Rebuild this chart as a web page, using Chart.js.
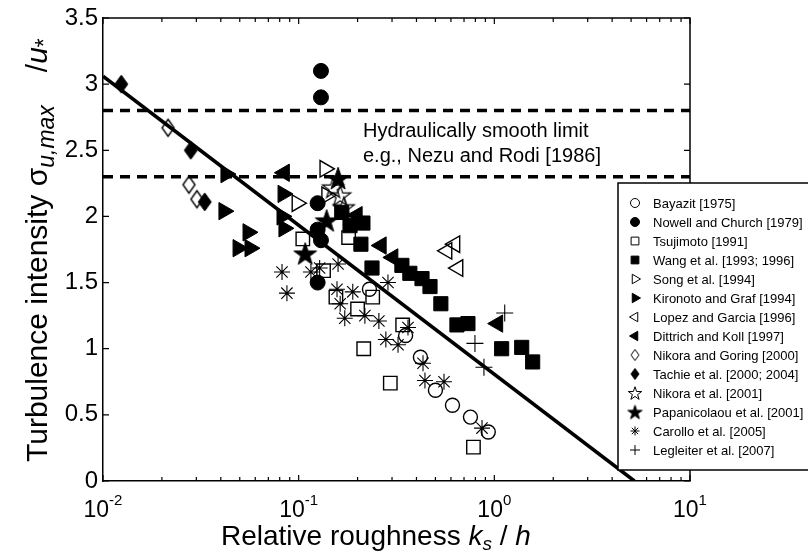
<!DOCTYPE html>
<html>
<head>
<meta charset="utf-8">
<script src="https://cdn.jsdelivr.net/npm/chart.js"></script>
<style>
  body { margin: 0; background: #fff; }
  canvas { display: block; }
</style>
</head>
<body>
<canvas id="chart" width="808" height="552"></canvas>
<script>
const FONT = "'Liberation Sans', Arial, Helvetica, sans-serif";

// axis ticks
const xDecades = [0.01, 0.1, 1, 10];
const xExponents = ["-2", "-1", "0", "1"];
const yTicks = [0, 0.5, 1, 1.5, 2, 2.5, 3, 3.5];
const yTickLabels = ["0", "0.5", "1", "1.5", "2", "2.5", "3", "3.5"];

// data, [k_s/h, sigma_u,max/u*]
const bayazit = [[0.23, 1.45], [0.352, 1.10], [0.419, 0.935], [0.50, 0.686], [0.611, 0.573], [0.755, 0.483], [0.931, 0.37]];
const nowell = [[0.13, 3.10], [0.13, 2.90], [0.125, 2.10], [0.125, 1.90], [0.13, 1.82], [0.125, 1.50]];
const tsujimoto = [[0.105, 1.83], [0.18, 1.84], [0.134, 1.59], [0.155, 1.39], [0.20, 1.30], [0.239, 1.39], [0.34, 1.18], [0.215, 1.00], [0.294, 0.74], [0.782, 0.256]];
const wang = [[0.166, 2.03], [0.183, 1.93], [0.213, 1.95], [0.208, 1.79], [0.237, 1.61], [0.337, 1.63], [0.370, 1.57], [0.427, 1.53], [0.469, 1.47], [0.533, 1.34], [0.644, 1.18], [0.733, 1.19], [1.09, 1.00], [1.38, 1.01], [1.57, 0.90]];
const song = [[0.136, 2.36], [0.098, 2.10], [0.139, 2.16]];
const kironoto = [[0.0425, 2.32], [0.0415, 2.04], [0.0551, 1.88], [0.049, 1.76], [0.0564, 1.76], [0.0832, 2.17], [0.0822, 2.00], [0.0841, 1.91]];
const lopez = [[0.573, 1.74], [0.629, 1.79], [0.652, 1.61]];
const dittrich = [[0.0845, 2.33], [0.199, 2.01], [0.264, 1.78], [0.303, 1.69], [1.04, 1.19]];
const nikoraGoring = [[0.0215, 2.67], [0.0275, 2.24], [0.0302, 2.13]];
const tachie = [[0.0124, 3.0], [0.0281, 2.5], [0.0331, 2.11]];
const nikora2001 = [[0.150, 2.22], [0.163, 2.16], [0.170, 2.07]];
const papanicolaou = [[0.159, 2.29], [0.108, 1.72], [0.139, 1.97]];
const carollo = [[0.0822, 1.58], [0.0871, 1.42], [0.1155, 1.58], [0.128, 1.61], [0.159, 1.64], [0.157, 1.45], [0.189, 1.43], [0.163, 1.34], [0.172, 1.23], [0.218, 1.25], [0.257, 1.21], [0.286, 1.50], [0.279, 1.07], [0.322, 1.03], [0.362, 1.16], [0.432, 0.89], [0.442, 0.76], [0.553, 0.75], [0.865, 0.40]];
const legleiter = [[1.13, 1.27], [0.796, 1.04], [0.885, 0.86]];

const fitLine = [[0.01, 3.06], [5.2, 0]];
const smoothUpper = [[0.01, 2.8], [10, 2.8]];
const smoothLower = [[0.01, 2.3], [10, 2.3]];

const seriesNames = [
  "Bayazit [1975]", "Nowell and Church [1979]", "Tsujimoto [1991]", "Wang et al. [1993; 1996]",
  "Song et al. [1994]", "Kironoto and Graf [1994]", "Lopez and Garcia [1996]", "Dittrich and Koll [1997]",
  "Nikora and Goring [2000]", "Tachie et al. [2000; 2004]", "Nikora et al. [2001]", "Papanicolaou et al. [2001]",
  "Carollo et al. [2005]", "Legleiter et al. [2007]"
];
const seriesData = [bayazit, nowell, tsujimoto, wang, song, kironoto, lopez, dittrich,
  nikoraGoring, tachie, nikora2001, papanicolaou, carollo, legleiter];

function makeStar(outer, filled, lw) {
  const size = Math.ceil(outer * 2 + lw * 2 + 2);
  const c = document.createElement("canvas");
  c.width = size; c.height = size;
  const g = c.getContext("2d");
  const cx = size / 2, cy = size / 2 + outer * 0.1;
  g.beginPath();
  for (let i = 0; i < 10; i++) {
    const r = i % 2 === 0 ? outer : outer * 0.39;
    const a = -Math.PI / 2 + i * Math.PI / 5;
    if (i === 0) g.moveTo(cx + r * Math.cos(a), cy + r * Math.sin(a));
    else g.lineTo(cx + r * Math.cos(a), cy + r * Math.sin(a));
  }
  g.closePath();
  g.lineWidth = lw; g.strokeStyle = "#000";
  if (filled) { g.fillStyle = "#000"; g.fill(); }
  g.stroke();
  return c;
}

function makeDiamond(w, h, filled, lw) {
  const c = document.createElement("canvas");
  c.width = Math.ceil(w + lw * 2 + 2); c.height = Math.ceil(h + lw * 2 + 2);
  const g = c.getContext("2d");
  const cx = c.width / 2, cy = c.height / 2;
  g.beginPath();
  g.moveTo(cx, cy - h / 2); g.lineTo(cx + w / 2, cy); g.lineTo(cx, cy + h / 2); g.lineTo(cx - w / 2, cy);
  g.closePath();
  g.lineWidth = lw; g.strokeStyle = "#000";
  if (filled) { g.fillStyle = "#000"; g.fill(); }
  g.stroke();
  return c;
}

// marker look on the plot and in the legend
const markers = [
  { style: "circle", r: 7, fill: false, lw: 1.4, lr: 4.5 },
  { style: "circle", r: 7.5, fill: true, lw: 1, lr: 4.5 },
  { style: "rect", r: 9.5, fill: false, lw: 1.4, lr: 5.5 },
  { style: "rect", r: 10, fill: true, lw: 1, lr: 5.5 },
  { style: "triangle", r: 9.5, rot: 90, fill: false, lw: 1.4, lr: 5.5 },
  { style: "triangle", r: 10, rot: 90, fill: true, lw: 1, lr: 5.5 },
  { style: "triangle", r: 9.5, rot: -90, fill: false, lw: 1.4, lr: 5.5 },
  { style: "triangle", r: 10, rot: -90, fill: true, lw: 1, lr: 5.5 },
  { style: makeDiamond(12, 17, false, 1.4), r: 8, legend: makeDiamond(8, 11, false, 1) },
  { style: makeDiamond(13, 18, true, 1), r: 8, legend: makeDiamond(8, 11, true, 1) },
  { style: makeStar(11, false, 1.2), r: 9, legend: makeStar(7, false, 1) },
  { style: makeStar(12, true, 1), r: 10, legend: makeStar(7.5, true, 1) },
  { style: "star", r: 8, fill: false, lw: 1.1, lr: 4.5 },
  { style: "cross", r: 8.5, fill: false, lw: 1.1, lr: 5 }
];

const toPts = arr => arr.map(p => ({ x: p[0], y: p[1] }));

const datasets = seriesNames.map((name, i) => {
  const m = markers[i];
  return {
    label: name,
    data: toPts(seriesData[i]),
    showLine: false,
    pointStyle: m.style,
    pointRadius: m.r,
    pointRotation: m.rot || 0,
    pointBackgroundColor: m.fill ? "#000" : "rgba(0,0,0,0)",
    pointBorderColor: "#000",
    pointBorderWidth: m.lw || 1,
    order: 1
  };
});

const lineSet = (pts, dash) => ({
  data: toPts(pts),
  showLine: true,
  borderColor: "#000",
  borderWidth: 3.5,
  borderDash: dash,
  pointRadius: 0,
  fill: false,
  order: 0
});
datasets.push(lineSet(fitLine, []));
datasets.push(lineSet(smoothUpper, [10, 7]));
datasets.push(lineSet(smoothLower, [10, 7]));

function drawMarker(ctx, m, x, y) {
  ctx.save();
  ctx.strokeStyle = "#000";
  ctx.fillStyle = m.fill ? "#000" : "rgba(0,0,0,0)";
  ctx.lineWidth = 1;
  const style = m.legend || m.style;
  if (typeof style !== "string") {
    ctx.drawImage(style, x - style.width / 2, y - style.height / 2);
  } else if (Chart.helpers && Chart.helpers.drawPoint) {
    Chart.helpers.drawPoint(ctx, { pointStyle: style, rotation: m.rot || 0, radius: m.lr, borderWidth: 1 }, x, y);
  }
  ctx.restore();
}

const decorations = {
  id: "decorations",
  afterDatasetsDraw(chart) {
    const ctx = chart.ctx;
    const a = chart.chartArea;
    const xs = chart.scales.x, ys = chart.scales.y;
    ctx.save();
    ctx.strokeStyle = "#000";
    ctx.fillStyle = "#000";
    ctx.lineWidth = 1.5;

    // top and right sides of the box
    ctx.beginPath();
    ctx.moveTo(a.left, a.top); ctx.lineTo(a.right, a.top); ctx.lineTo(a.right, a.bottom);
    ctx.stroke();

    // inward ticks
    ctx.lineWidth = 1.2;
    ctx.beginPath();
    yTicks.forEach(v => {
      const py = ys.getPixelForValue(v);
      ctx.moveTo(a.left, py); ctx.lineTo(a.left + 6, py);
      ctx.moveTo(a.right, py); ctx.lineTo(a.right - 6, py);
    });
    xDecades.forEach((d, i) => {
      const steps = i < xDecades.length - 1 ? [1, 2, 3, 4, 5, 6, 7, 8, 9] : [1];
      steps.forEach(k => {
        const px = xs.getPixelForValue(d * k);
        const len = k === 1 ? 6 : 4;
        ctx.moveTo(px, a.bottom); ctx.lineTo(px, a.bottom - len);
        ctx.moveTo(px, a.top); ctx.lineTo(px, a.top + len);
      });
    });
    ctx.stroke();

    // y tick labels
    ctx.font = "24px " + FONT;
    ctx.textAlign = "right";
    ctx.textBaseline = "middle";
    yTicks.forEach((v, i) => ctx.fillText(yTickLabels[i], a.left - 5, ys.getPixelForValue(v)));

    // x tick labels 10^n
    ctx.textBaseline = "alphabetic";
    ctx.textAlign = "left";
    xDecades.forEach((d, i) => {
      ctx.font = "23px " + FONT;
      const wBase = ctx.measureText("10").width;
      ctx.font = "15px " + FONT;
      const wExp = ctx.measureText(xExponents[i]).width;
      const left = xs.getPixelForValue(d) - (wBase + wExp) / 2;
      ctx.font = "23px " + FONT;
      ctx.fillText("10", left, 517);
      ctx.font = "15px " + FONT;
      ctx.fillText(xExponents[i], left + wBase, 505);
    });

    // x axis title
    let cx = 221;
    const piece = (t, f, dy) => { ctx.font = f; ctx.fillText(t, cx, 545 + dy); cx += ctx.measureText(t).width; };
    piece("Relative roughness ", "28px " + FONT, 0);
    piece("k", "italic 28px " + FONT, 0);
    piece("s", "italic 19px " + FONT, 5);
    piece(" / ", "28px " + FONT, 0);
    piece("h", "italic 28px " + FONT, 0);

    // y axis title
    ctx.save();
    ctx.translate(47, 462);
    ctx.rotate(-Math.PI / 2);
    cx = 0;
    const piece2 = (t, f, dy) => { ctx.font = f; ctx.fillText(t, cx, dy); cx += ctx.measureText(t).width; };
    piece2("Turbulence intensity \u03c3", "30px " + FONT, 0);
    piece2("u,max", "italic 23px " + FONT, 7);
    cx += 33;
    piece2("/", "30px " + FONT, 0);
    piece2("u", "italic 30px " + FONT, 0);
    piece2("*", "23px " + FONT, 5);
    ctx.restore();

    // annotation
    ctx.font = "20px " + FONT;
    ctx.fillText("Hydraulically smooth limit", 363, 137);
    ctx.fillText("e.g., Nezu and Rodi [1986]", 363, 162);

    // legend
    const lx = 618, ly = 183, lh = 287;
    ctx.fillStyle = "#fff";
    ctx.fillRect(lx, ly, 220, lh);
    ctx.strokeStyle = "#000";
    ctx.lineWidth = 1.5;
    ctx.strokeRect(lx, ly, 220, lh);
    ctx.font = "13px " + FONT;
    ctx.textBaseline = "middle";
    seriesNames.forEach((name, i) => {
      const y = 203 + i * 19;
      drawMarker(ctx, markers[i], 635, y);
      ctx.fillStyle = "#000";
      ctx.fillText(name, 653, y + 1);
    });
    ctx.restore();
  }
};

new Chart(document.getElementById("chart"), {
  type: "scatter",
  data: { datasets },
  options: {
    responsive: false,
    animation: false,
    devicePixelRatio: 1,
    layout: { padding: { left: 103, right: 118, top: 18, bottom: 71 } },
    plugins: { legend: { display: false }, tooltip: { enabled: false } },
    scales: {
      x: {
        type: "logarithmic", min: 0.01, max: 10,
        grid: { display: false, drawTicks: false },
        ticks: { display: false },
        border: { display: true, color: "#000", width: 1.5 }
      },
      y: {
        min: 0, max: 3.5,
        grid: { display: false, drawTicks: false },
        ticks: { display: false },
        border: { display: true, color: "#000", width: 1.5 }
      }
    }
  },
  plugins: [decorations]
});
</script>
</body>
</html>
